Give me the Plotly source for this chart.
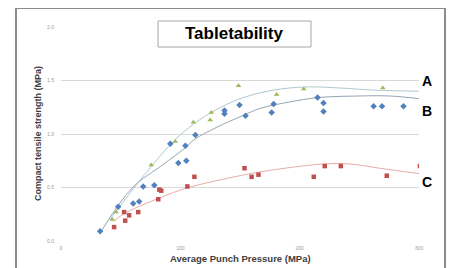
import plotly.graph_objects as go

# Series A (green triangles)
a_x = [42.9, 46.2, 75.6, 95.8, 110.9, 125.0, 126.0, 148.7, 180.7, 203.4, 269.7]
a_y = [0.20, 0.27, 0.71, 0.93, 1.11, 1.13, 1.20, 1.45, 1.37, 1.42, 1.43]

# Series B (blue diamonds)
b_x = [32.8, 47.9, 60.5, 65.5, 68.9, 78.2, 91.6, 98.3, 104.2, 105.0, 112.6,
       137.0, 137.0, 149.6, 154.6, 176.5, 178.2, 215.0, 220.0, 220.0, 262.0, 269.0, 287.0]
b_y = [0.09, 0.32, 0.35, 0.37, 0.51, 0.52, 0.91, 0.73, 0.89, 0.75, 0.99,
       1.22, 1.19, 1.27, 1.17, 1.20, 1.28, 1.34, 1.29, 1.21, 1.26, 1.26, 1.26]

# Series C (red squares)
c_x = [44.5, 52.9, 53.8, 57.1, 64.7, 81.5, 82.4, 84.0, 105.9, 111.8,
       153.8, 159.7, 165.5, 211.8, 221.0, 234.5, 273.0, 300.8]
c_y = [0.13, 0.27, 0.19, 0.24, 0.27, 0.39, 0.48, 0.47, 0.51, 0.60,
       0.68, 0.60, 0.62, 0.60, 0.70, 0.70, 0.61, 0.70]

# Trendlines
a_trend_x = [41, 70, 95, 112, 129, 150, 178, 206, 234, 262, 300]
a_trend_y = [0.20, 0.62, 0.94, 1.10, 1.22, 1.33, 1.41, 1.44, 1.43, 1.41, 1.40]
b_trend_x = [33, 60, 85, 104, 112, 130, 152, 167, 192, 215, 248, 276, 300]
b_trend_y = [0.08, 0.50, 0.71, 0.87, 0.95, 1.06, 1.17, 1.24, 1.30, 1.34, 1.355, 1.355, 1.33]
c_trend_x = [44, 52, 82, 107, 152, 178, 220, 242, 267, 300]
c_trend_y = [0.18, 0.25, 0.40, 0.50, 0.615, 0.665, 0.72, 0.72, 0.68, 0.63]

x_ticks = [0, 100, 200, 300]
y_ticks = [0.0, 0.5, 1.0, 1.5, 2.0]
series_labels = ["A", "B", "C"]

fig = go.Figure()

for tx, ty, col in [(a_trend_x, a_trend_y, "#b0c8cf"),
                    (b_trend_x, b_trend_y, "#96a4b2"),
                    (c_trend_x, c_trend_y, "#e8abab")]:
    fig.add_trace(go.Scatter(x=tx, y=ty, mode="lines",
                             line=dict(color=col, width=1, shape="spline", smoothing=1.0),
                             hoverinfo="skip", showlegend=False))

fig.add_trace(go.Scatter(x=c_x, y=c_y, mode="markers",
                         marker=dict(symbol="square", size=4.5, color="#c0504d"), showlegend=False))
fig.add_trace(go.Scatter(x=b_x, y=b_y, mode="markers",
                         marker=dict(symbol="diamond", size=5, color="#4f81bd"), showlegend=False))
fig.add_trace(go.Scatter(x=a_x, y=a_y, mode="markers",
                         marker=dict(symbol="triangle-up", size=5, color="#9bbb59"), showlegend=False))

OFF = 8  # page offset of the figure in the window
W, H = 455, 268
# target plot area in window pixels: x 61..419, y 27..241
L = 61 - OFF
R = W - (419 - OFF)
T = 27 - OFF
B = H - (241 - OFF)
pw, ph = W - L - R, H - T - B

def px(xp):
    return (xp - OFF - L) / pw

def py(yp):
    return (H - B - (yp - OFF)) / ph

fig.update_layout(
    width=W, height=H,
    margin=dict(l=L, r=R, t=T, b=B),
    paper_bgcolor="white", plot_bgcolor="white",
    font=dict(family="Liberation Sans, Arial, sans-serif"),
    xaxis=dict(range=[0, 300], tickvals=x_ticks, ticktext=[str(v) for v in x_ticks],
               showgrid=False, zeroline=False, showline=False, ticks="",
               ticklabelstandoff=3,
               tickfont=dict(size=5, color="#999999")),
    yaxis=dict(range=[0, 2.0], tickvals=y_ticks, ticktext=["%.1f" % v for v in y_ticks],
               showgrid=True, gridcolor="#d9d9d9", gridwidth=1, zeroline=False,
               showline=False, ticks="", ticklabelstandoff=6,
               tickfont=dict(size=5, color="#999999")),
    shapes=[
        dict(type="rect", xref="paper", yref="paper",
             x0=px(16), x1=px(445), y0=py(285), y1=py(8),
             line=dict(color="#8c8c8c", width=2), fillcolor="rgba(0,0,0,0)", layer="above"),
        dict(type="rect", xref="paper", yref="paper",
             x0=px(158), x1=px(311), y0=py(47), y1=py(21),
             line=dict(color="#a6a6a6", width=1), fillcolor="white", layer="above"),
    ],
    annotations=[
        dict(text="<b>Tabletability</b>", xref="paper", yref="paper", x=px(234), y=py(34),
             showarrow=False, font=dict(size=17, color="black"), xanchor="center", yanchor="middle"),
        dict(text="<b>Compact tensile strength (MPa)</b>", xref="paper", yref="paper",
             x=px(38), y=py(134), textangle=-90, showarrow=False,
             font=dict(size=9, color="#404040"), xanchor="center", yanchor="middle"),
        dict(text="<b>Average Punch Pressure (MPa)</b>", xref="paper", yref="paper",
             x=px(240), y=py(259), showarrow=False,
             font=dict(size=9.5, color="#404040"), xanchor="center", yanchor="middle"),
    ] + [
        dict(text="<b>%s</b>" % lab, xref="paper", yref="paper", x=px(427), y=py(yy),
             showarrow=False, font=dict(size=14, color="black"), xanchor="center", yanchor="middle")
        for lab, yy in zip(series_labels, [81, 111, 182])
    ],
)

fig.write_html("out.html")
